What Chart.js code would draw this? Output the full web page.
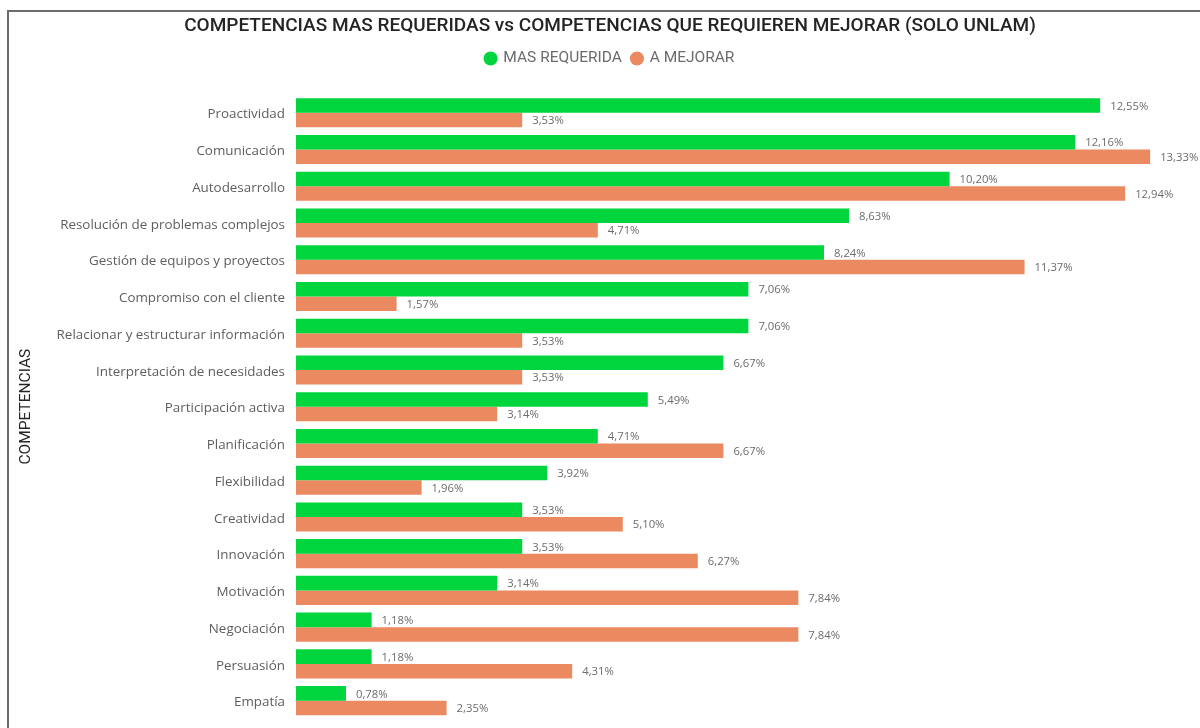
<!DOCTYPE html>
<html><head><meta charset="utf-8">
<script src="https://cdn.jsdelivr.net/npm/chart.js@4"></script>
<style>
html,body{margin:0;padding:0;background:#fff;}
#wrap{position:relative;width:1200px;height:728px;overflow:hidden;}
#frame{position:absolute;left:7px;top:10px;width:1300px;height:800px;border-left:2px solid #6b6b6b;border-top:2px solid #6b6b6b;box-sizing:border-box;}
canvas{position:absolute;left:0;top:0;}
</style></head>
<body><div id="wrap"><div id="frame"></div><canvas id="c" width="1226" height="728"></canvas></div>
<script>
const categories = ["Proactividad","Comunicación","Autodesarrollo","Resolución de problemas complejos","Gestión de equipos y proyectos","Compromiso con el cliente","Relacionar y estructurar información","Interpretación de necesidades","Participación activa","Planificación","Flexibilidad","Creatividad","Innovación","Motivación","Negociación","Persuasión","Empatía"];
const masRequerida = [12.55,12.16,10.20,8.63,8.24,7.06,7.06,6.67,5.49,4.71,3.92,3.53,3.53,3.14,1.18,1.18,0.78];
const aMejorar = [3.53,13.33,12.94,4.71,11.37,1.57,3.53,3.53,3.14,6.67,1.96,5.10,6.27,7.84,7.84,4.31,2.35];
const seriesNames = ["MAS REQUERIDA","A MEJORAR"];

const labelPlugin = {
  id:'valueLabels',
  afterDatasetsDraw(chart){
    const ctx = chart.ctx;
    ctx.save();
    ctx.font = '11.3px "Open Sans"';
    ctx.fillStyle = '#6E6C6A';
    ctx.textAlign = 'left';
    ctx.textBaseline = 'middle';
    chart.data.datasets.forEach((ds,di)=>{
      chart.getDatasetMeta(di).data.forEach((bar,i)=>{
        const t = ds.data[i].toFixed(2).replace('.',',')+'%';
        ctx.fillText(t, bar.x+10, bar.y+1);
      });
    });
    ctx.restore();
  }
};

new Chart(document.getElementById('c'),{
  type:'bar',
  data:{labels:categories,datasets:[
    {label:seriesNames[0],data:masRequerida,backgroundColor:'#00D53E',borderWidth:0},
    {label:seriesNames[1],data:aMejorar,backgroundColor:'#EB8A60',borderWidth:0}
  ]},
  options:{
    indexAxis:'y',responsive:false,animation:false,
    devicePixelRatio:1,
    layout:{padding:{top:7,right:6,bottom:9,left:0}},
    datasets:{bar:{barPercentage:1,categoryPercentage:0.79}},
    scales:{
      x:{position:'top',min:0,max:14.42,grid:{display:false},border:{display:false},ticks:{display:false},afterFit(s){ s.height = 18; }},
      y:{
        grid:{display:false,drawTicks:true,tickLength:11},border:{display:false},
        ticks:{color:'#605E5C',font:{family:'"Open Sans"',size:13.4},padding:0,labelOffset:2},
        title:{display:true,text:'COMPETENCIAS',color:'#252423',font:{family:'Roboto',size:15.5},padding:{top:17,bottom:0}},
        afterFit(s){ s.width = 296; }
      }
    },
    plugins:{
      title:{display:true,text:'COMPETENCIAS MAS REQUERIDAS vs COMPETENCIAS QUE REQUIEREN MEJORAR (SOLO UNLAM)',color:'#252423',font:{family:'Roboto',size:19,weight:'500'},padding:{top:8,bottom:3}},
      legend:{labels:{usePointStyle:true,pointStyle:'circle',boxWidth:10,boxHeight:10,color:'#6E6C6A',font:{family:'Roboto',size:15.5},padding:10}},
      tooltip:{enabled:false}
    }
  },
  plugins:[labelPlugin]
});
</script></body></html>
